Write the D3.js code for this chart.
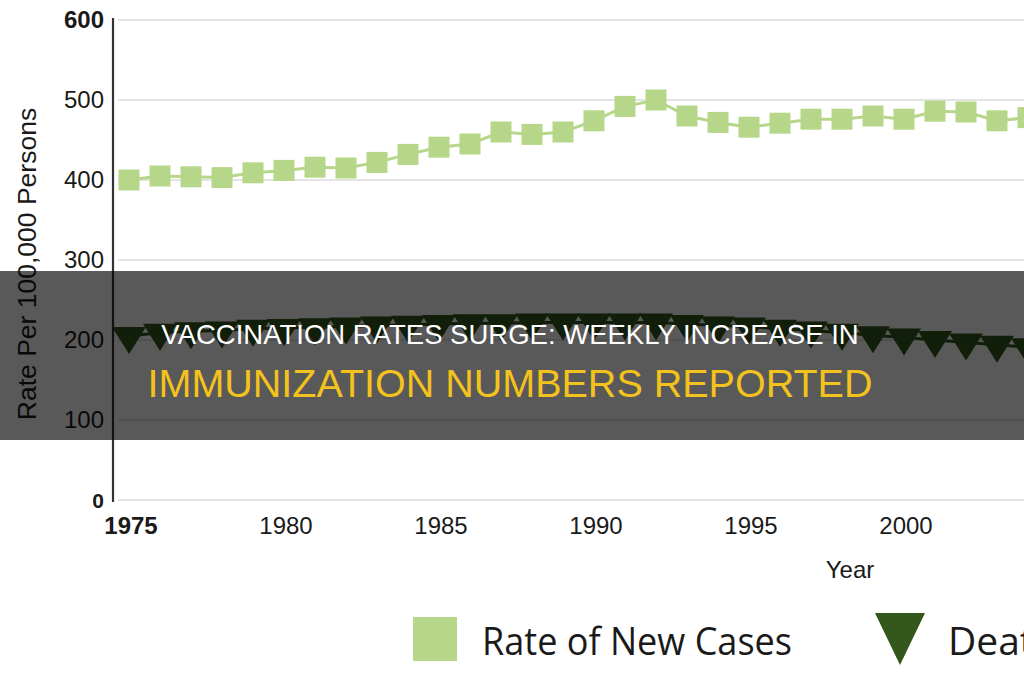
<!DOCTYPE html>
<html>
<head>
<meta charset="utf-8">
<script src="https://cdn.jsdelivr.net/npm/d3@7"></script>
<style>
  html, body { margin: 0; padding: 0; background: #ffffff; overflow: hidden; }
  svg { display: block; }
</style>
</head>
<body>
<svg id="chart" width="1024" height="680"></svg>
<script>
// ---- data ----
const years = [1975,1976,1977,1978,1979,1980,1981,1982,1983,1984,1985,1986,1987,1988,1989,
               1990,1991,1992,1993,1994,1995,1996,1997,1998,1999,2000,2001,2002,2003,2004];
const newCases = [400,405,404,403,409,412,416,415,422,432,441,445,460,457,460,
                  474,492,500,480,472,466,471,476,476,480,476,486,485,474,478];
const deaths = [205,209,211,212,214,215,216,217,218,219,220,221,221,222,222,
                222,222,222,220,218,217,214,212,209,206,203,200,197,194,191];
const yTicks = [0,100,200,300,400,500,600];
const xTicks = [1975,1980,1985,1990,1995,2000];
const seriesNames = ["Rate of New Cases","Deaths"];
const yTitle = "Rate Per 100,000 Persons";
const xTitle = "Year";
const headline1 = "VACCINATION RATES SURGE: WEEKLY INCREASE IN";
const headline2 = "IMMUNIZATION NUMBERS REPORTED";

// ---- layout ----
const svg = d3.select("#chart");
const x = d3.scaleLinear().domain([1975, 2005]).range([129, 1059]);
const y = d3.scaleLinear().domain([0, 600]).range([500, 20]);
const axisX = 113;
const green = "#b6d78a";
const dark = "#33561a";
const font = "'Liberation Sans', Arial, sans-serif";

// gridlines
svg.append("g").selectAll("line").data(yTicks).join("line")
  .attr("x1", 118).attr("x2", 1024)
  .attr("y1", d => y(d)).attr("y2", d => y(d))
  .attr("stroke", "#e4e4e4").attr("stroke-width", 2);

// y axis line
svg.append("line").attr("x1", axisX).attr("x2", axisX)
  .attr("y1", y(600) - 2).attr("y2", y(0) + 2)
  .attr("stroke", "#333").attr("stroke-width", 2.2);

// y tick labels
svg.append("g").selectAll("text").data(yTicks).join("text")
  .attr("x", 104).attr("y", d => y(d) + 8)
  .attr("text-anchor", "end")
  .attr("font-family", font)
  .attr("font-size", d => d === 0 ? 21 : 24)
  .attr("font-weight", d => (d === 0 || d === 600) ? "bold" : "normal")
  .attr("fill", "#1a1a1a")
  .text(d => d);

// x tick labels
svg.append("g").selectAll("text").data(xTicks).join("text")
  .attr("x", d => x(d) + 2).attr("y", 534)
  .attr("text-anchor", "middle")
  .attr("font-family", font)
  .attr("font-size", 24)
  .attr("font-weight", d => d === 1975 ? "bold" : "normal")
  .attr("fill", "#1a1a1a")
  .text(d => d);

// axis titles
svg.append("text").attr("x", 850).attr("y", 578)
  .attr("text-anchor", "middle").attr("font-family", font).attr("font-size", 24)
  .attr("fill", "#1a1a1a").text(xTitle);
svg.append("text").attr("transform", "translate(36,264) rotate(-90)")
  .attr("text-anchor", "middle").attr("font-family", font).attr("font-size", 26.5)
  .attr("fill", "#1a1a1a").text(yTitle);

// new cases series
const lineGen = d3.line().x(d => x(d[0])).y(d => y(d[1]));
const casesData = years.map((yr, i) => [yr, newCases[i]]);
svg.append("path").datum(casesData).attr("d", lineGen)
  .attr("fill", "none").attr("stroke", green).attr("stroke-width", 3);
svg.append("g").selectAll("rect").data(casesData).join("rect")
  .attr("x", d => x(d[0]) - 10.5).attr("y", d => y(d[1]) - 10.5)
  .attr("width", 21).attr("height", 21).attr("fill", green);

// deaths series (down-pointing triangles)
const deathData = years.map((yr, i) => [yr, deaths[i]]);
svg.append("path").datum(deathData).attr("d", lineGen)
  .attr("fill", "none").attr("stroke", dark).attr("stroke-width", 3);
const tw = 34, th = 27;
svg.append("g").selectAll("path").data(deathData).join("path")
  .attr("d", d => {
    const cx = x(d[0]), cy = y(d[1]);
    return `M${cx - tw/2},${cy - th/3} L${cx + tw/2},${cy - th/3} L${cx},${cy + 2*th/3} Z`;
  })
  .attr("fill", dark);

// legend
svg.append("rect").attr("x", 413).attr("y", 617).attr("width", 44).attr("height", 44).attr("fill", green);
svg.append("text").attr("x", 482).attr("y", 655)
  .attr("font-family", "'Open Sans', sans-serif").attr("font-size", 39)
  .attr("textLength", 310).attr("lengthAdjust", "spacingAndGlyphs")
  .attr("fill", "#1a1a1a").text(seriesNames[0]);
svg.append("path").attr("d", "M875,613 L925,613 L900,665 Z").attr("fill", dark);
svg.append("text").attr("x", 948).attr("y", 655)
  .attr("font-family", "'Open Sans', sans-serif").attr("font-size", 39)
  .attr("fill", "#1a1a1a").text(seriesNames[1]);

// overlay banner
svg.append("rect").attr("x", 0).attr("y", 271).attr("width", 1024).attr("height", 169)
  .attr("fill", "#000").attr("fill-opacity", 0.65);
svg.append("text").attr("x", 510).attr("y", 344)
  .attr("text-anchor", "middle").attr("font-family", font).attr("font-size", 27.5)
  .attr("fill", "#ffffff").text(headline1);
svg.append("text").attr("x", 510).attr("y", 397)
  .attr("text-anchor", "middle").attr("font-family", font).attr("font-size", 39.5)
  .attr("fill", "#f4c21c").text(headline2);
</script>
</body>
</html>
